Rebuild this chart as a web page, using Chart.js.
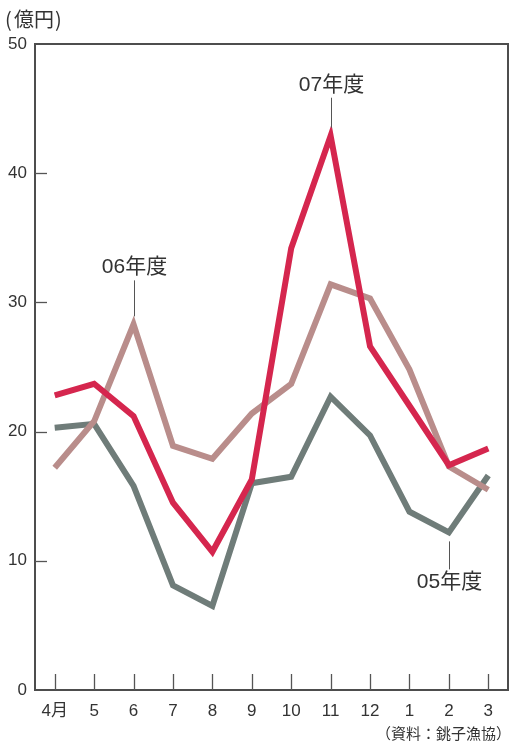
<!DOCTYPE html>
<html lang="ja">
<head>
<meta charset="utf-8">
<title>銚子漁協 水揚げ金額</title>
<script src="https://cdn.jsdelivr.net/npm/chart.js@4/dist/chart.umd.min.js"></script>
<style>
  html, body { margin: 0; padding: 0; background: #ffffff; }
  #wrap { position: relative; width: 511px; height: 745px; }
  canvas { display: block; }
</style>
</head>
<body>
<div id="wrap"><canvas id="c" width="511" height="745"></canvas></div>
<script>
// 月別（4月〜翌3月）
const months = ['4月', '5', '6', '7', '8', '9', '10', '11', '12', '1', '2', '3'];
// 年度別の金額（億円）
const fy05 = [20.3, 20.6, 15.8, 8.1, 6.5, 16.0, 16.5, 22.7, 19.7, 13.8, 12.2, 16.6];
const fy06 = [17.2, 20.8, 28.3, 18.9, 17.9, 21.4, 23.7, 31.4, 30.3, 24.8, 17.3, 15.5];
const fy07 = [22.8, 23.7, 21.2, 14.5, 10.7, 16.3, 34.2, 42.9, 26.6, 22.0, 17.4, 18.7];
// 縦軸の目盛り
const yTicks = [0, 10, 20, 30, 40, 50];

const FONT = '"Liberation Sans", "Noto Sans CJK JP", sans-serif';
const JFONT = '"Noto Sans CJK JP", "Liberation Sans", sans-serif';

// 枠線・目盛り線・系列名・注記を描くプラグイン
const frame = {
  id: 'frame',
  afterDatasetsDraw(chart) {
    const { ctx, chartArea: a, scales: { x, y } } = chart;
    ctx.save();
    ctx.strokeStyle = '#4d4d4d';
    ctx.lineWidth = 2;
    ctx.strokeRect(a.left, a.top, a.right - a.left, a.bottom - a.top);

    ctx.lineWidth = 1.3;
    ctx.strokeStyle = '#555';
    yTicks.forEach(v => {
      if (v === 0 || v === 50) return;
      const py = Math.round(y.getPixelForValue(v)) + 0.5;
      ctx.beginPath(); ctx.moveTo(a.left, py); ctx.lineTo(a.left + 12, py); ctx.stroke();
    });
    months.forEach((m, i) => {
      const px = Math.round(x.getPixelForValue(i)) + 0.5;
      ctx.beginPath(); ctx.moveTo(px, a.bottom); ctx.lineTo(px, a.bottom - 16); ctx.stroke();
    });

    // 系列名ラベル
    const labels = [
      { data: fy07, i: 7, text: '07年度', dir: -1, gap: 8, len: 30, off: 13 },
      { data: fy06, i: 2, text: '06年度', dir: -1, gap: 8, len: 36, off: 13 },
      { data: fy05, i: 10, text: '05年度', dir: 1, gap: 9, len: 28, off: 13 }
    ];
    ctx.fillStyle = '#333';
    ctx.strokeStyle = '#555';
    ctx.lineWidth = 1;
    ctx.font = '21px ' + FONT;
    ctx.textAlign = 'center';
    ctx.textBaseline = 'middle';
    labels.forEach(l => {
      const px = Math.round(x.getPixelForValue(l.i)) + 0.5;
      const py = y.getPixelForValue(l.data[l.i]);
      const y0 = py + l.dir * l.gap;
      const y1 = y0 + l.dir * l.len;
      ctx.beginPath(); ctx.moveTo(px, y0); ctx.lineTo(px, y1); ctx.stroke();
      ctx.fillText(l.text, px, y1 + l.dir * l.off);
    });

    // 単位と出典
    ctx.textAlign = 'left';
    ctx.font = '20px ' + JFONT;
    ctx.fillText('(', 5, 19);
    ctx.fillText('億円', 14, 19);
    ctx.fillText(')', 55, 19);
    ctx.textAlign = 'right';
    ctx.font = '15px ' + JFONT;
    ctx.fillText('（資料：銚子漁協）', 511, 733);
    ctx.restore();
  }
};

const line = (data, color, order) => ({
  data, borderColor: color, backgroundColor: color,
  borderWidth: 6, pointRadius: 0, tension: 0, order,
  borderJoinStyle: 'miter', borderCapStyle: 'butt', fill: false
});

new Chart(document.getElementById('c'), {
  type: 'line',
  data: {
    labels: months,
    datasets: [
      line(fy05, '#6f7c79', 3),
      line(fy06, '#b98d8b', 2),
      line(fy07, '#d5264e', 1)
    ]
  },
  options: {
    responsive: false,
    devicePixelRatio: 1,
    animation: false,
    layout: { padding: { top: 44, right: 3, left: 0, bottom: 0 } },
    plugins: { legend: { display: false }, tooltip: { enabled: false } },
    scales: {
      x: {
        offset: true,
        grid: { display: false, drawTicks: false },
        border: { display: false },
        ticks: { color: '#333', font: { size: 17, family: FONT }, padding: 11, maxRotation: 0, autoSkip: false },
        afterFit(s) { s.height = 55; }
      },
      y: {
        min: 0, max: 50,
        grid: { display: false, drawTicks: false },
        border: { display: false },
        ticks: { stepSize: 10, color: '#333', font: { size: 17, family: FONT }, padding: 8 },
        afterBuildTicks(s) { s.ticks = yTicks.map(v => ({ value: v })); },
        afterFit(s) { s.width = 35; }
      }
    }
  },
  plugins: [frame]
});
</script>
</body>
</html>
